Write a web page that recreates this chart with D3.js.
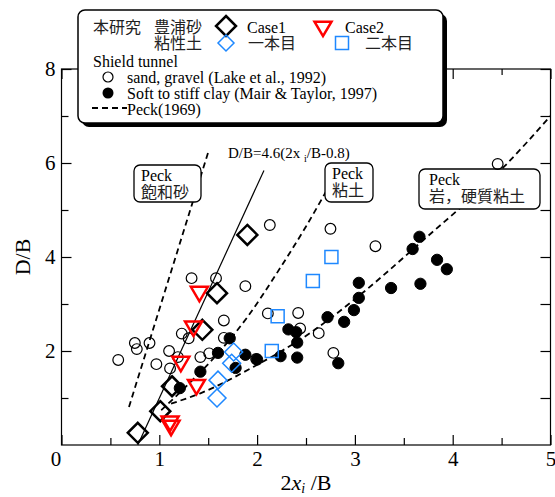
<!DOCTYPE html>
<html>
<head>
<meta charset="utf-8">
<script src="https://cdn.jsdelivr.net/npm/d3@7"></script>
<style>
body{margin:0;background:#fff;}
text{font-family:"Liberation Serif","Times New Roman",serif;}
.jp{font-family:"Noto Sans CJK JP",sans-serif;}
</style>
</head>
<body>
<svg width="555" height="497"></svg>
<script>
// data: [2x_i/B, D/B]
const case1 = [[0.78,0.26],[1.01,0.72],[1.13,1.25],[1.44,2.45],[1.59,3.23],[1.90,4.47]];
const case2 = [[1.11,0.47],[1.12,0.38],[1.22,1.74],[1.38,1.25],[1.35,2.49],[1.41,3.23]];
const ippon = [[1.59,1.00],[1.60,1.38],[1.74,1.74],[1.76,1.98]];
const nihon = [[2.15,2.00],[2.21,2.74],[2.57,3.49],[2.76,4.00]];
const lake = [[0.58,1.81],[0.75,2.17],[0.77,2.04],[0.90,2.17],[0.97,1.72],[1.10,2.00],[1.11,1.63],
  [1.19,1.87],[1.23,2.37],[1.30,2.27],[1.33,3.55],[1.42,1.87],[1.51,1.95],[1.58,3.55],[1.66,2.65],
  [1.66,2.28],[1.88,3.38],[1.99,1.83],[2.11,2.80],[2.13,4.68],[2.42,2.81],[2.44,2.48],[2.63,2.38],
  [2.75,4.60],[2.78,1.96],[3.21,4.23],[4.46,5.98]];
const mair = [[1.21,1.21],[1.42,1.56],[1.60,1.96],[1.72,2.27],[1.78,1.64],[1.88,1.92],[2.00,1.82],
  [2.24,1.89],[2.32,2.46],[2.40,2.40],[2.41,2.18],[2.41,1.86],[2.72,2.72],[2.83,1.74],[2.89,2.62],
  [2.99,2.87],[3.04,3.13],[3.04,3.45],[3.37,3.34],[3.59,4.17],[3.66,4.43],[3.67,3.43],[3.84,3.94],[3.94,3.74]];
const fitLine = [[0.78,0],[2.07,5.84]];
const peckSand = [[0.69,0.81],[1.50,6.23]];
const peckClay = [[1.02,0.74],[1.3,1.3],[1.6,1.95],[1.9,2.72],[2.2,3.65],[2.5,4.65],[2.8,5.75]];
const peckStiff = [[1.12,0.88],[1.42,1.1],[1.96,1.66],[2.54,2.38],[2.95,3.02],[3.70,4.36],[4.52,5.91],[5.0,7.0]];
const xTicks=[0,1,2,3,4,5], xMinor=[0.5,1.5,2.5,3.5,4.5];
const yTicks=[2,4,6,8], yMinor=[1,3,5,7];

const svg=d3.select("svg");
const x=d3.scaleLinear().domain([0,5]).range([61.5,550.5]);
const y=d3.scaleLinear().domain([0,8]).range([445,69]);

// frame + inner ticks
svg.append("rect").attr("x",x(0)).attr("y",y(8)).attr("width",x(5)-x(0)).attr("height",y(0)-y(8))
   .attr("fill","none").attr("stroke","#000").attr("stroke-width",1.2);

function ax(gen, tr, vals, size, labels){
  const g=svg.append("g").attr("transform",tr)
     .call(gen.tickValues(vals).tickSize(-size).tickPadding(6).tickFormat(labels?d3.format("d"):""));
  g.select(".domain").remove();
  g.selectAll("line").attr("stroke-width",1.2);
  g.selectAll("text").style("font-size","21px").attr("fill","#000");
  return g;
}
const xb=ax(d3.axisBottom(x),"translate(0,"+y(0)+")",xTicks,10,true);
xb.selectAll(".tick").filter(d=>d===0).select("text").attr("dx",-6);
ax(d3.axisBottom(x),"translate(0,"+y(0)+")",xMinor,7,false);
ax(d3.axisTop(x),"translate(0,"+y(8)+")",xTicks,10,false);
ax(d3.axisTop(x),"translate(0,"+y(8)+")",xMinor,6,false);
ax(d3.axisLeft(y),"translate("+x(0)+",0)",yTicks,10,true);
ax(d3.axisLeft(y),"translate("+x(0)+",0)",yMinor,7,false);
ax(d3.axisRight(y),"translate("+x(5)+",0)",yTicks,10,false);
ax(d3.axisRight(y),"translate("+x(5)+",0)",yMinor,10,false);

// axis titles
svg.append("text").attr("transform","translate(30,257) rotate(-90)").attr("text-anchor","middle")
   .style("font-size","22px").text("D/B");
const xt=svg.append("text").attr("x",306).attr("y",490).attr("text-anchor","middle").style("font-size","22px");
xt.append("tspan").text("2");
xt.append("tspan").style("font-style","italic").text("x");
xt.append("tspan").attr("dy",3).style("font-size","14px").style("font-style","italic").text("i");
xt.append("tspan").attr("dy",-3).text(" /B");

// reference lines
const line=d3.line().x(d=>x(d[0])).y(d=>y(d[1]));
const cline=d3.line().x(d=>x(d[0])).y(d=>y(d[1])).curve(d3.curveMonotoneX);
svg.append("path").attr("d",line(peckSand)).attr("fill","none").attr("stroke","#000").attr("stroke-width",1.8).attr("stroke-dasharray","6,4");
svg.append("path").attr("d",cline(peckClay)).attr("fill","none").attr("stroke","#000").attr("stroke-width",1.8).attr("stroke-dasharray","6,4");
svg.append("path").attr("d",cline(peckStiff)).attr("fill","none").attr("stroke","#000").attr("stroke-width",1.8).attr("stroke-dasharray","6,4");
svg.append("path").attr("d",line(fitLine)).attr("fill","none").attr("stroke","#000").attr("stroke-width",1.2);

const fl=svg.append("text").attr("x",228).attr("y",158).style("font-size","15px");
fl.append("tspan").text("D/B=4.6(2x ");
fl.append("tspan").attr("dy",4).style("font-size","10px").text("i");
fl.append("tspan").attr("dy",-4).text("/B-0.8)");

// label boxes
function labelBox(bx,by,bw,bh,l1,l2,tx){
  svg.append("rect").attr("x",bx).attr("y",by).attr("width",bw).attr("height",bh).attr("rx",6)
     .attr("fill","#fff").attr("stroke","#000").attr("stroke-width",1.3);
  svg.append("text").attr("x",tx).attr("y",by+16).style("font-size","16px").text(l1);
  svg.append("text").attr("class","jp").attr("x",tx).attr("y",by+33).style("font-size","16px").attr("fill","#222").text(l2);
}
labelBox(134,165,67,37,"Peck","飽和砂",141);
labelBox(325,163,48,39,"Peck","粘土",332);
labelBox(419,169,121,40,"Peck","岩，硬質粘土",429);

// markers
const diamond=(s)=>`M0,${-s}L${s},0L0,${s}L${-s},0Z`;
const tri=(s)=>`M${-s},${-s*0.75}L${s},${-s*0.75}L0,${s*0.95}Z`;
function pts(data, sym, stroke, sw, fill){
  svg.append("g").selectAll("path").data(data).join("path")
     .attr("transform",d=>`translate(${x(d[0])},${y(d[1])})`)
     .attr("d",sym).attr("fill",fill).attr("stroke",stroke).attr("stroke-width",sw);
}
pts(lake, d3.symbol(d3.symbolCircle, 90)(), "#000", 1.2, "none");
pts(mair, d3.symbol(d3.symbolCircle, 100)(), "#000", 1, "#000");
pts(ippon, diamond(9), "#1e88ff", 1.5, "none");
pts(nihon, "M-6.5,-6.5h13v13h-13Z", "#1e88ff", 1.5, "none");
pts(case1, diamond(10), "#000", 2.5, "none");
pts(case2, tri(8.5), "#ff0000", 2.5, "none");

// legend
const lg=svg.append("g");
lg.append("rect").attr("x",82).attr("y",14).attr("width",365).attr("height",113).attr("rx",7).attr("fill","#000");
lg.append("rect").attr("x",78).attr("y",10).attr("width",365).attr("height",113).attr("rx",7)
  .attr("fill","#fff").attr("stroke","#000").attr("stroke-width",1.5);
lg.append("text").attr("class","jp").attr("x",93).attr("y",33).style("font-size","16px").attr("fill","#222").text("本研究");
lg.append("text").attr("class","jp").attr("x",202).attr("y",33).attr("text-anchor","end").style("font-size","16px").attr("fill","#222").text("豊浦砂");
lg.append("text").attr("class","jp").attr("x",202).attr("y",49).attr("text-anchor","end").style("font-size","16px").attr("fill","#222").text("粘性土");
lg.append("path").attr("transform","translate(226,26)").attr("d",diamond(10)).attr("fill","none").attr("stroke","#000").attr("stroke-width",2.5);
lg.append("text").attr("x",247).attr("y",33).style("font-size","16px").text("Case1");
lg.append("path").attr("transform","translate(323,28)").attr("d",tri(8.5)).attr("fill","none").attr("stroke","#ff0000").attr("stroke-width",2.5);
lg.append("text").attr("x",345).attr("y",33).style("font-size","16px").text("Case2");
lg.append("path").attr("transform","translate(226,43)").attr("d",diamond(8)).attr("fill","none").attr("stroke","#1e88ff").attr("stroke-width",1.5);
lg.append("text").attr("class","jp").attr("x",248).attr("y",49).style("font-size","16px").attr("fill","#222").text("一本目");
lg.append("path").attr("transform","translate(342,43)").attr("d","M-6.5,-6.5h13v13h-13Z").attr("fill","none").attr("stroke","#1e88ff").attr("stroke-width",1.5);
lg.append("text").attr("class","jp").attr("x",365).attr("y",49).style("font-size","16px").attr("fill","#222").text("二本目");
lg.append("text").attr("x",93).attr("y",67).style("font-size","16px").text("Shield tunnel");
lg.append("circle").attr("cx",108).attr("cy",77).attr("r",5).attr("fill","none").attr("stroke","#000").attr("stroke-width",1.2);
lg.append("text").attr("x",127).attr("y",83).style("font-size","16px").text("sand, gravel (Lake et al., 1992)");
lg.append("circle").attr("cx",108).attr("cy",93).attr("r",5.5).attr("fill","#000");
lg.append("text").attr("x",127).attr("y",99).style("font-size","16px").text("Soft to stiff clay (Mair & Taylor, 1997)");
lg.append("line").attr("x1",92).attr("x2",127).attr("y1",108).attr("y2",108).attr("stroke","#000").attr("stroke-width",1.8).attr("stroke-dasharray","6,4");
lg.append("text").attr("x",127).attr("y",115).style("font-size","16px").text("Peck(1969)");
</script>
</body>
</html>
